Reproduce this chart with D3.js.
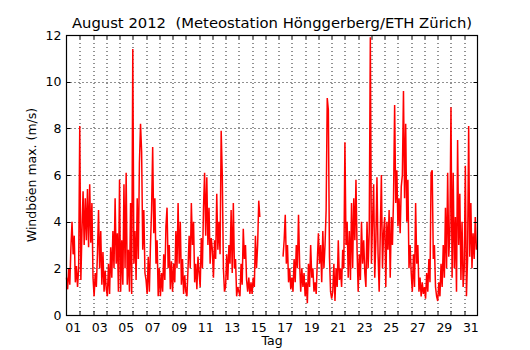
<!DOCTYPE html>
<html>
<head>
<meta charset="utf-8">
<script src="https://cdn.jsdelivr.net/npm/d3@7/dist/d3.min.js"></script>
<style>
  body { margin: 0; background: #fff; }
  svg { display: block; font-family: "DejaVu Sans", sans-serif; }
</style>
</head>
<body>
<svg id="chart" width="530" height="350"></svg>
<script>
// Windböen max. (m/s), 12 values per day (every 2 h), null = no data
const aug01to07 = [
  1.6, 1.1, 2.0, 1.3, 2.9, 4.0, 2.6, 3.4, 1.4, 2.1, 1.2, 2.0,
  8.1, 1.5, 3.6, 5.3, 3.0, 5.0, 3.2, 5.4, 2.9, 5.6, 3.1, 4.8,
  1.6, 0.8, 1.8, 1.2, 2.6, 4.5, 2.0, 3.6, 1.3, 2.7, 1.0, 1.9,
  1.1, 0.8, 2.2, 0.9, 2.9, 1.6, 3.6, 2.0, 5.0, 2.2, 3.5, 1.0,
  5.8, 1.0, 3.2, 1.3, 5.6, 2.0, 6.1, 1.3, 2.8, 1.0, 4.8, 0.9,
  11.4, 2.2, 3.6, 1.5, 5.0, 2.4, 6.5, 8.2, 7.0, 2.8, 4.5, 1.8,
  1.5, 0.9, 2.5, 1.0, 3.0, 4.5, 7.2, 3.5, 5.0, 2.2, 3.2, 0.8
];
const aug08to14 = [
  2.0, 0.8, 1.8, 1.0, 2.6, 1.5, 3.8, 4.6, 2.0, 3.0, 1.1, 2.3,
  1.0, 2.2, 1.4, 3.6, 2.0, 4.8, 2.2, 4.0, 1.3, 2.4, 0.9, 1.7,
  1.0, 0.8, 2.0, 3.4, 2.0, 4.8, 3.0, 4.0, 1.4, 2.2, 1.1, 2.5,
  1.8, 1.2, 3.3, 2.0, 4.6, 6.1, 3.4, 5.9, 3.0, 4.6, 2.2, 3.3,
  2.8, 1.6, 3.2, 2.4, 5.2, 2.8, 4.0, 2.6, 7.9, 6.0, 2.0, 1.0,
  1.2, 2.6, 1.5, 3.0, 2.2, 4.5, 1.8, 4.8, 2.0, 2.4, 0.8, 1.2,
  1.0, 0.8, 2.2, 1.3, 3.7, 2.4, 3.0, 1.5, 1.0, 1.6, 0.9, 1.4
];
const aug15to21 = [
  0.9, 1.6, 1.2, 3.4, 2.0, 3.0, 4.9, 4.2, null, null, null, null,
  null, null, null, null, null, null, null, null, null, null, null, null,
  null, null, null, null, 2.5, 3.2, 4.3, 2.2, 3.0, 1.4, 2.0, 1.1,
  1.6, 1.0, 2.4, 1.4, 3.0, 2.0, 4.3, 2.2, 1.0, 2.0, 1.2, 1.8,
  0.8, 1.4, 0.5, 2.2, 1.2, 3.0, 1.6, 2.0, 1.0, 1.4, 0.9, 2.3,
  3.5, 2.2, 3.0, 1.4, 3.6, 2.0, 3.0, 4.5, 9.3, 8.8, 2.5, 1.0,
  0.7, 1.0, 2.2, 0.6, 2.0, 1.2, 3.2, 1.5, 2.0, 1.2, 2.8, 2.0
];
const aug22to28 = [
  7.4, 3.0, 4.0, 1.6, 3.6, 1.5, 4.8, 2.0, 5.0, 3.2, 5.8, 2.8,
  1.0, 2.6, 1.5, 4.0, 2.2, 3.2, 1.8, 1.2, 4.0, 2.0, 3.6, 11.9,
  2.2, 4.0, 5.6, 1.6, 3.2, 5.9, 2.6, 1.0, 3.5, 6.0, 2.0, 3.5,
  4.2, 1.2, 4.0, 2.8, 4.5, 1.6, 4.2, 3.0, 5.0, 9.0, 4.8, 6.2,
  3.8, 5.0, 3.5, 5.5, 6.0, 9.6, 5.0, 8.2, 4.0, 5.8, 2.0, 3.0,
  1.8, 1.0, 2.6, 1.2, 4.8, 2.2, 3.0, 1.0, 1.6, 0.8, 1.4, 0.9,
  1.2, 0.7, 1.8, 1.0, 2.4, 1.4, 6.1, 6.2, 2.4, 3.0, 1.2, 0.8
];
const aug29to31 = [
  0.6, 1.4, 0.8, 2.2, 1.2, 3.0, 1.6, 4.6, 2.0, 6.1, 2.5, 3.5,
  8.9, 1.6, 6.1, 2.0, 4.2, 1.0, 7.5, 3.0, 5.2, 1.5, 4.0, 1.2,
  2.0, 6.4, 0.8, 2.4, 8.1, 2.5, 4.8, 2.0, 3.5, 2.4, 4.2, 2.8
];

const dayLabels = ["01", "03", "05", "07", "09", "11", "13", "15",
  "17", "19", "21", "23", "25", "27", "29", "31"];
const yTicks = [0, 2, 4, 6, 8, 10, 12];
const samplesPerDay = 12;
const daysInMonth = 31;

const width = 530;
const height = 350;
const margin = { top: 35, right: 52.5, bottom: 35, left: 66.5 };
const innerWidth = width - margin.left - margin.right;
const innerHeight = height - margin.top - margin.bottom;

const svg = d3.select("#chart");
const g = svg.append("g")
  .attr("transform", `translate(${margin.left}, ${margin.top})`);

// time in days since 1 Aug 00:00
const xScale = d3.scaleLinear()
  .domain([0, daysInMonth])
  .range([0, innerWidth]);

const yScale = d3.scaleLinear()
  .domain([0, 12])
  .range([innerHeight, 0]);

const data = [].concat(aug01to07, aug08to14, aug15to21, aug22to28, aug29to31)
  .map((v, i) => ({ t: i / samplesPerDay, v }));

// Dotted grid: one vertical line per day boundary, horizontal at y ticks
const dayBounds = d3.range(1, daysInMonth);
g.append("g")
  .selectAll("line")
  .data(dayBounds)
  .join("line")
  .attr("x1", d => Math.round(xScale(d)) + 0.5)
  .attr("x2", d => Math.round(xScale(d)) + 0.5)
  .attr("y1", 0)
  .attr("y2", innerHeight)
  .attr("stroke", "#222")
  .attr("stroke-width", 1)
  .attr("stroke-dasharray", "1,3");

g.append("g")
  .selectAll("line")
  .data(yTicks.slice(1, -1))
  .join("line")
  .attr("x1", 0)
  .attr("x2", innerWidth)
  .attr("y1", d => Math.round(yScale(d)) + 0.5)
  .attr("y2", d => Math.round(yScale(d)) + 0.5)
  .attr("stroke", "#222")
  .attr("stroke-width", 1)
  .attr("stroke-dasharray", "1,3");

// The gust line
const line = d3.line()
  .defined(d => d.v !== null)
  .x(d => xScale(d.t))
  .y(d => yScale(d.v));

g.append("path")
  .datum(data)
  .attr("fill", "none")
  .attr("stroke", "#ff0000")
  .attr("stroke-width", 1.5)
  .attr("stroke-linejoin", "miter")
  .attr("d", line);

// Inward tick marks on all four sides
const tickLen = 4;
const ticks = g.append("g").attr("stroke", "#000").attr("stroke-width", 1);
dayBounds.forEach(d => {
  const x = Math.round(xScale(d)) + 0.5;
  ticks.append("line").attr("x1", x).attr("x2", x).attr("y1", 0).attr("y2", tickLen);
  ticks.append("line").attr("x1", x).attr("x2", x).attr("y1", innerHeight).attr("y2", innerHeight - tickLen);
});
yTicks.slice(1, -1).forEach(d => {
  const y = Math.round(yScale(d)) + 0.5;
  ticks.append("line").attr("x1", 0).attr("x2", tickLen).attr("y1", y).attr("y2", y);
  ticks.append("line").attr("x1", innerWidth).attr("x2", innerWidth - tickLen).attr("y1", y).attr("y2", y);
});

// Frame
g.append("rect")
  .attr("x", 0)
  .attr("y", 0.5)
  .attr("width", innerWidth)
  .attr("height", innerHeight)
  .attr("fill", "none")
  .attr("stroke", "#000")
  .attr("stroke-width", 1.2);

// X axis labels (centred on each odd day)
g.append("g")
  .selectAll("text")
  .data(dayLabels)
  .join("text")
  .attr("x", d => xScale(+d - 0.5))
  .attr("y", innerHeight + 16.5)
  .attr("text-anchor", "middle")
  .attr("font-size", 12.5)
  .attr("fill", "#000")
  .text(d => d);

// Y axis labels
g.append("g")
  .selectAll("text")
  .data(yTicks)
  .join("text")
  .attr("x", -5)
  .attr("y", d => yScale(d))
  .attr("dy", "0.36em")
  .attr("text-anchor", "end")
  .attr("font-size", 12.5)
  .attr("fill", "#000")
  .text(d => d);

// Axis titles
g.append("text")
  .attr("x", innerWidth / 2)
  .attr("y", innerHeight + 30)
  .attr("text-anchor", "middle")
  .attr("font-size", 12.5)
  .text("Tag");

g.append("text")
  .attr("transform", `translate(${-31}, ${innerHeight / 2}) rotate(-90)`)
  .attr("text-anchor", "middle")
  .attr("font-size", 12.5)
  .text("Windböen max. (m/s)");

// Title
g.append("text")
  .attr("x", innerWidth / 2)
  .attr("y", -7)
  .attr("text-anchor", "middle")
  .attr("font-size", 14.8)
  .style("white-space", "pre")
  .text("August 2012  (Meteostation Hönggerberg/ETH Zürich)");
</script>
</body>
</html>
